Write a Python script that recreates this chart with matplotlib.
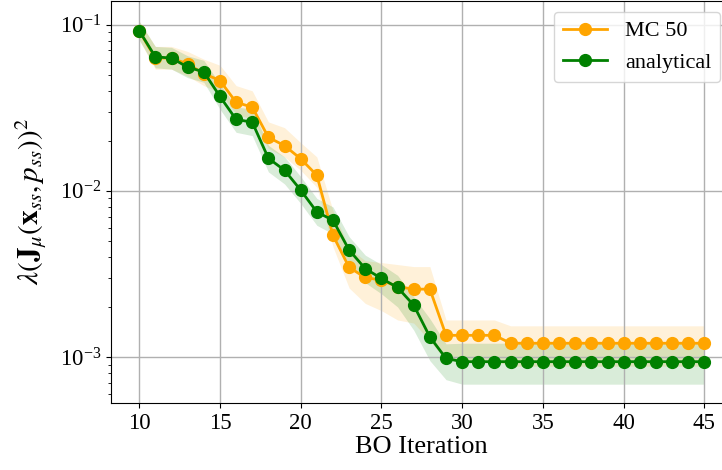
import matplotlib
matplotlib.use("Agg")
import matplotlib.pyplot as plt
import numpy as np

plt.rcParams["font.family"] = ["Liberation Serif", "DejaVu Serif"]
plt.rcParams["mathtext.fontset"] = "stix"

iterations = np.arange(10, 46)

mc50_mean = [0.092, 0.063, 0.063, 0.058, 0.0508, 0.0461, 0.0341, 0.0319, 0.021, 0.0187,
             0.0156, 0.0124, 0.0054, 0.00346, 0.00301, 0.0029, 0.00265, 0.00256, 0.00256,
             0.00135, 0.00135, 0.00135, 0.00135] + [0.00121] * 13
mc50_upper = [0.105, 0.074, 0.074, 0.069, 0.062, 0.057, 0.043, 0.04, 0.026, 0.024,
              0.0195, 0.016, 0.0076, 0.0045, 0.0038, 0.0037, 0.0036, 0.0035, 0.0035,
              0.00167, 0.00167, 0.00167, 0.00167] + [0.00154] * 13
mc50_lower = [0.081, 0.054, 0.054, 0.049, 0.043, 0.039, 0.029, 0.027, 0.018, 0.016,
              0.0133, 0.0105, 0.0046, 0.0026, 0.0021, 0.0019, 0.00167, 0.0016, 0.00125,
              0.00095, 0.00095, 0.00095, 0.00095] + [0.00088] * 13

analytical_mean = [0.092, 0.064, 0.063, 0.0555, 0.052, 0.037, 0.0269, 0.0259, 0.0157, 0.0133,
                   0.0101, 0.00746, 0.00665, 0.0044, 0.0034, 0.00297, 0.00262, 0.00205,
                   0.00132, 0.00098] + [0.000937] * 16
analytical_upper = [0.105, 0.074, 0.073, 0.065, 0.061, 0.044, 0.032, 0.031, 0.0188, 0.016,
                    0.0122, 0.009, 0.008, 0.0053, 0.0041, 0.0036, 0.0031, 0.0023,
                    0.0017, 0.0012] + [0.00121] * 16
analytical_lower = [0.081, 0.055, 0.054, 0.048, 0.045, 0.031, 0.0225, 0.0215, 0.013, 0.011,
                    0.0084, 0.0062, 0.0055, 0.0036, 0.0028, 0.0024, 0.002, 0.00145,
                    0.00095, 0.00073] + [0.000686] * 16

fig = plt.figure(figsize=(7.22, 4.70), dpi=100)
ax = fig.add_axes([0.154, 0.143, 0.859, 0.855])

ax.fill_between(iterations, mc50_lower, mc50_upper, color="orange", alpha=0.15, linewidth=0)
ax.fill_between(iterations, analytical_lower, analytical_upper, color="green", alpha=0.15, linewidth=0)
ax.plot(iterations, mc50_mean, color="orange", marker="o", markersize=8.5, linewidth=2, label="MC 50")
ax.plot(iterations, analytical_mean, color="green", marker="o", markersize=8.5, linewidth=2, label="analytical")

ax.set_yscale("log")
ax.set_ylim(5.3e-4, 0.139)
ax.set_xlim(8.265, 46.67)
ax.set_xticks([10, 15, 20, 25, 30, 35, 40, 45])
ax.grid(True, which="major", color="#b0b0b0", linewidth=1)
ax.tick_params(labelsize=16.5)
ax.set_xlabel("BO Iteration", fontsize=19, labelpad=2)
ax.set_ylabel(r"$\lambda(\mathbf{J}_\mu(\mathbf{x}_{ss}, p_{ss}))^2$", fontsize=21, labelpad=8)
ax.legend(loc="upper right", fontsize=16)

fig.savefig("out.png", dpi=100)
